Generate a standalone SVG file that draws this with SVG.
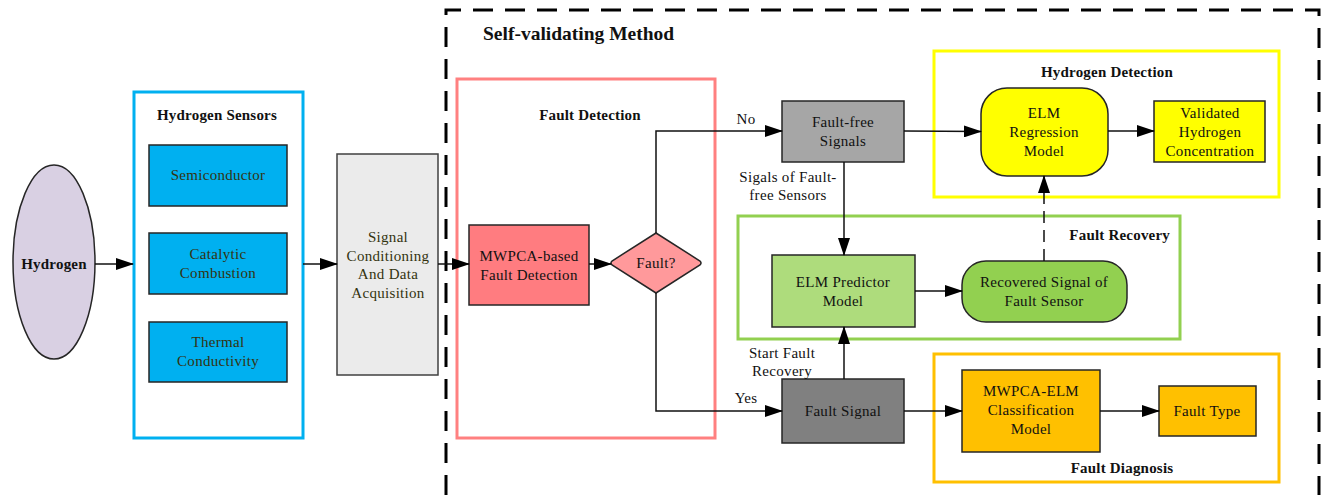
<svg xmlns="http://www.w3.org/2000/svg" width="1328" height="495" viewBox="0 0 1328 495" font-family="'Liberation Serif', 'Times New Roman', Times, 'DejaVu Serif', serif">
<style>
text{font-family:'Liberation Serif','Times New Roman',Times,'DejaVu Serif',serif;font-size:15px;letter-spacing:0.3px;fill:#111;text-anchor:middle}
.t{font-weight:bold;font-size:15px;letter-spacing:0.2px}
.big{font-weight:bold;font-size:19.5px;letter-spacing:0;text-anchor:start}
.ol{fill:#33330f}
.n{stroke:#262626;stroke-width:1.5}
.c{fill:none;stroke:#111;stroke-width:1.5}
</style>
<defs>
<marker id="ah" markerUnits="userSpaceOnUse" markerWidth="18" markerHeight="12" refX="17" refY="6" orient="auto">
<path d="M0,0 L18,6 L0,12 Z" fill="#000"/>
</marker>
</defs>
<rect width="1328" height="495" fill="#fff"/>

<g id="self-validating">
<path d="M446,495 L446,10 L1319,10 L1319,495" fill="none" stroke="#000" stroke-width="3" stroke-dasharray="20,12"/>
<text class="big" x="483" y="40">Self-validating Method</text>
</g>

<g id="hydrogen">
<ellipse cx="54" cy="262" rx="41" ry="97" fill="#D9D0E3" class="n"/>
<text class="t" x="54" y="269">Hydrogen</text>
</g>

<g id="hydrogen-sensors">
<rect x="134" y="92" width="169" height="346" fill="none" stroke="#00B0F0" stroke-width="3"/>
<text class="t" x="217" y="120">Hydrogen Sensors</text>
</g>
<g id="semiconductor">
<rect x="149" y="145" width="138" height="61" fill="#00B0F0" class="n"/>
<text class="ol" x="218" y="180">Semiconductor</text>
</g>
<g id="catalytic">
<rect x="149" y="233" width="138" height="61" fill="#00B0F0" class="n"/>
<text class="ol" x="218" y="259">Catalytic</text>
<text class="ol" x="218" y="278">Combustion</text>
</g>
<g id="thermal">
<rect x="149" y="322" width="138" height="60" fill="#00B0F0" class="n"/>
<text class="ol" x="218" y="347">Thermal</text>
<text class="ol" x="218" y="366">Conductivity</text>
</g>

<g id="signal-conditioning">
<rect x="337" y="154" width="101" height="221" fill="#EBEBEB" stroke="#404040" stroke-width="1.5"/>
<text class="ol" x="388" y="242">Signal</text>
<text class="ol" x="388" y="261">Conditioning</text>
<text class="ol" x="388" y="279">And Data</text>
<text class="ol" x="388" y="298">Acquisition</text>
</g>

<g id="fault-detection-group">
<rect x="457" y="79" width="258" height="359" fill="none" stroke="#FF8080" stroke-width="3"/>
<text class="t" x="590" y="120">Fault Detection</text>
</g>
<g id="mwpca-detection">
<rect x="469" y="225" width="120" height="80" fill="#FF7C80" class="n"/>
<text x="529" y="261">MWPCA-based</text>
<text x="529" y="280">Fault Detection</text>
</g>
<g id="fault-decision">
<path d="M656,233 L700,261 Q702,263 700,265 L656,293 L612,265 Q610,263 612,261 Z" fill="#FF999B" class="n"/>
<text x="656" y="268">Fault?</text>
</g>

<g id="fault-free-signals">
<rect x="782" y="101" width="122" height="61" fill="#A6A6A6" class="n"/>
<text x="843" y="127">Fault-free</text>
<text x="843" y="146">Signals</text>
</g>
<g id="fault-signal">
<rect x="782" y="379" width="122" height="64" fill="#808080" class="n"/>
<text x="843" y="416">Fault Signal</text>
</g>

<g id="fault-recovery-group">
<rect x="738" y="216" width="442" height="123" fill="none" stroke="#92D050" stroke-width="3"/>
<text class="t" x="1170" y="240" style="text-anchor:end">Fault Recovery</text>
</g>
<g id="elm-predictor">
<rect x="772" y="255" width="143" height="72" fill="#AEDC7C" class="n"/>
<text x="843" y="287">ELM Predictor</text>
<text x="843" y="306">Model</text>
</g>
<g id="recovered-signal">
<rect x="962" y="261" width="165" height="61" rx="24" fill="#92D050" class="n"/>
<text x="1044" y="287">Recovered Signal of</text>
<text x="1044" y="306">Fault Sensor</text>
</g>

<g id="hydrogen-detection-group">
<rect x="934" y="51" width="345" height="146" fill="none" stroke="#FFFF00" stroke-width="3"/>
<text class="t" x="1107" y="77">Hydrogen Detection</text>
</g>
<g id="elm-regression">
<rect x="981" y="88" width="127" height="88" rx="26" fill="#FFFF00" class="n"/>
<text x="1044" y="118">ELM</text>
<text x="1044" y="137">Regression</text>
<text x="1044" y="156">Model</text>
</g>
<g id="validated">
<rect x="1154" y="101" width="111" height="61" fill="#FFFF00" class="n"/>
<text x="1210" y="118">Validated</text>
<text x="1210" y="137">Hydrogen</text>
<text x="1210" y="156">Concentration</text>
</g>

<g id="fault-diagnosis-group">
<rect x="934" y="354" width="345" height="128" fill="none" stroke="#FFC000" stroke-width="3"/>
<text class="t" x="1122" y="473">Fault Diagnosis</text>
</g>
<g id="mwpca-elm">
<rect x="962" y="370" width="138" height="82" fill="#FFC000" class="n"/>
<text x="1031" y="396">MWPCA-ELM</text>
<text x="1031" y="415">Classification</text>
<text x="1031" y="434">Model</text>
</g>
<g id="fault-type">
<rect x="1159" y="386" width="97" height="50" fill="#FFC000" class="n"/>
<text x="1207" y="416">Fault Type</text>
</g>

<g id="connectors">
<line class="c" x1="95" y1="264" x2="133" y2="264" marker-end="url(#ah)"/>
<line class="c" x1="303" y1="264" x2="337" y2="264" marker-end="url(#ah)"/>
<line class="c" x1="438" y1="264" x2="469" y2="264" marker-end="url(#ah)"/>
<line class="c" x1="589" y1="264" x2="611" y2="264" marker-end="url(#ah)"/>
<polyline class="c" points="656,233 656,131 782,131" marker-end="url(#ah)"/>
<polyline class="c" points="656,293 656,411 782,411" marker-end="url(#ah)"/>
<line class="c" x1="904" y1="131" x2="981" y2="131.5" marker-end="url(#ah)"/>
<line class="c" x1="1108" y1="131" x2="1154" y2="131" marker-end="url(#ah)"/>
<line class="c" x1="844" y1="162" x2="844" y2="255" marker-end="url(#ah)"/>
<line class="c" x1="844" y1="379" x2="844" y2="327" marker-end="url(#ah)"/>
<line class="c" x1="915" y1="291" x2="962" y2="291" marker-end="url(#ah)"/>
<line class="c" x1="1044" y1="261" x2="1044" y2="176" stroke-dasharray="12,7" marker-end="url(#ah)"/>
<line class="c" x1="904" y1="411" x2="962" y2="411" marker-end="url(#ah)"/>
<line class="c" x1="1100" y1="411" x2="1159" y2="411" marker-end="url(#ah)"/>
<text x="746" y="124">No</text>
<text x="746" y="403">Yes</text>
<text x="788" y="182">Sigals of Fault-</text>
<text x="788" y="200">free Sensors</text>
<text x="782" y="358">Start Fault</text>
<text x="782" y="376">Recovery</text>
</g>
</svg>
